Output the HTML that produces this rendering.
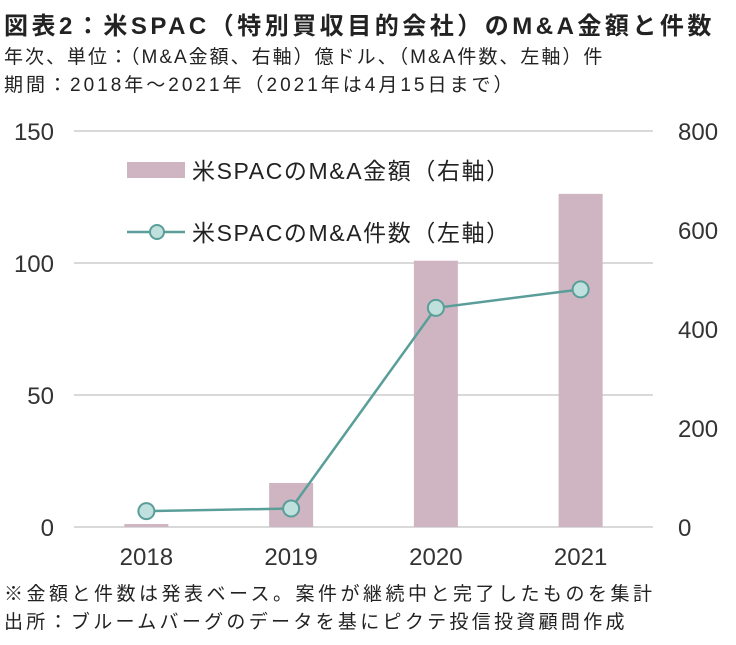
<!DOCTYPE html>
<html><head><meta charset="utf-8"><style>
body{margin:0;background:#fff;font-family:"Liberation Sans","Noto Sans CJK JP",sans-serif;color:#222;}
.t{position:absolute;white-space:nowrap;}
</style></head><body>
<div style="position:relative;width:736px;height:645px;overflow:hidden">
<div class="t" style="left:4px;top:6px;font-size:24px;font-weight:bold;letter-spacing:3.5px">図表2：米SPAC（特別買収目的会社）のM&amp;A金額と件数</div>
<div class="t" style="left:4px;top:42px;font-size:19px;letter-spacing:2px">年次、単位：（M&amp;A金額、右軸）億ドル、（M&amp;A件数、左軸）件</div>
<div class="t" style="left:4px;top:70px;font-size:19px;letter-spacing:3px">期間：2018年～2021年（2021年は4月15日まで）</div>
<div class="t" style="left:4px;top:579px;font-size:19px;letter-spacing:3.5px">※金額と件数は発表ベース。案件が継続中と完了したものを集計</div>
<div class="t" style="left:4px;top:607px;font-size:19px;letter-spacing:3.3px">出所：ブルームバーグのデータを基にピクテ投信投資顧問作成</div>
<svg id="c" width="736" height="645" style="position:absolute;left:0;top:0"></svg>
</div>
<script>
const categories=["2018","2019","2020","2021"];
const amountValues=[6,89,538,673];
const countValues=[6,7,83,90];
const leftTicks=[0,50,100,150];
const rightTicks=[0,200,400,600,800];
const svg=document.getElementById('c');
const NS='http://www.w3.org/2000/svg';
const x0=74,x1=653,yb=527,yt=131;
const yL=v=>yb-(v/150)*(yb-yt);
const yR=v=>yb-(v/800)*(yb-yt);
const xC=i=>x0+(i+0.5)*(x1-x0)/categories.length;
function mk(t,a){const e=document.createElementNS(NS,t);for(const k in a)e.setAttribute(k,a[k]);svg.appendChild(e);return e;}
leftTicks.forEach(v=>{
 const l=mk('line',{x1:x0,x2:x1,y1:yL(v),y2:yL(v),stroke:'#d9d9d9','stroke-width':2});
 
 
 const t=mk('text',{x:54,y:yL(v)+9,'text-anchor':'end','font-size':24,fill:'#333'});t.textContent=v;
 
 
});
rightTicks.forEach(v=>{
 const t=mk('text',{x:678,y:yR(v)+9,'font-size':24,fill:'#333'});t.textContent=v;
 
 
});
categories.forEach((c,i)=>{
 const r=mk('rect',{x:xC(i)-22,y:yR(amountValues[i]),width:44,height:yb-yR(amountValues[i]),fill:'#cfb5c2'});
 
 
 const t=mk('text',{x:xC(i),y:565,'text-anchor':'middle','font-size':24,fill:'#333'});t.textContent=c;
 
 
});
const p=mk('polyline',{points:countValues.map((v,i)=>xC(i)+','+yL(v)).join(' '),fill:'none',stroke:'#5a9e9a','stroke-width':2.5});


countValues.forEach((v,i)=>{
 const c=mk('circle',{cx:xC(i),cy:yL(v),r:8,fill:'#bfe0dc',stroke:'#5a9e9a','stroke-width':2});
 
 
});
const lr=mk('rect',{x:127,y:162,width:58,height:16,fill:'#cfb5c2'});


const lt=mk('text',{x:192,y:179,'font-size':23,'letter-spacing':1.6,fill:'#222'});lt.textContent='米SPACのM&A金額（右軸）';


const ll=mk('line',{x1:127,x2:185,y1:232,y2:232,stroke:'#5a9e9a','stroke-width':2.5});


const lc=mk('circle',{cx:157,cy:232,r:7,fill:'#bfe0dc',stroke:'#5a9e9a','stroke-width':2});


const lt2=mk('text',{x:192,y:241,'font-size':23,'letter-spacing':1.6,fill:'#222'});lt2.textContent='米SPACのM&A件数（左軸）';


</script>
</body></html>
